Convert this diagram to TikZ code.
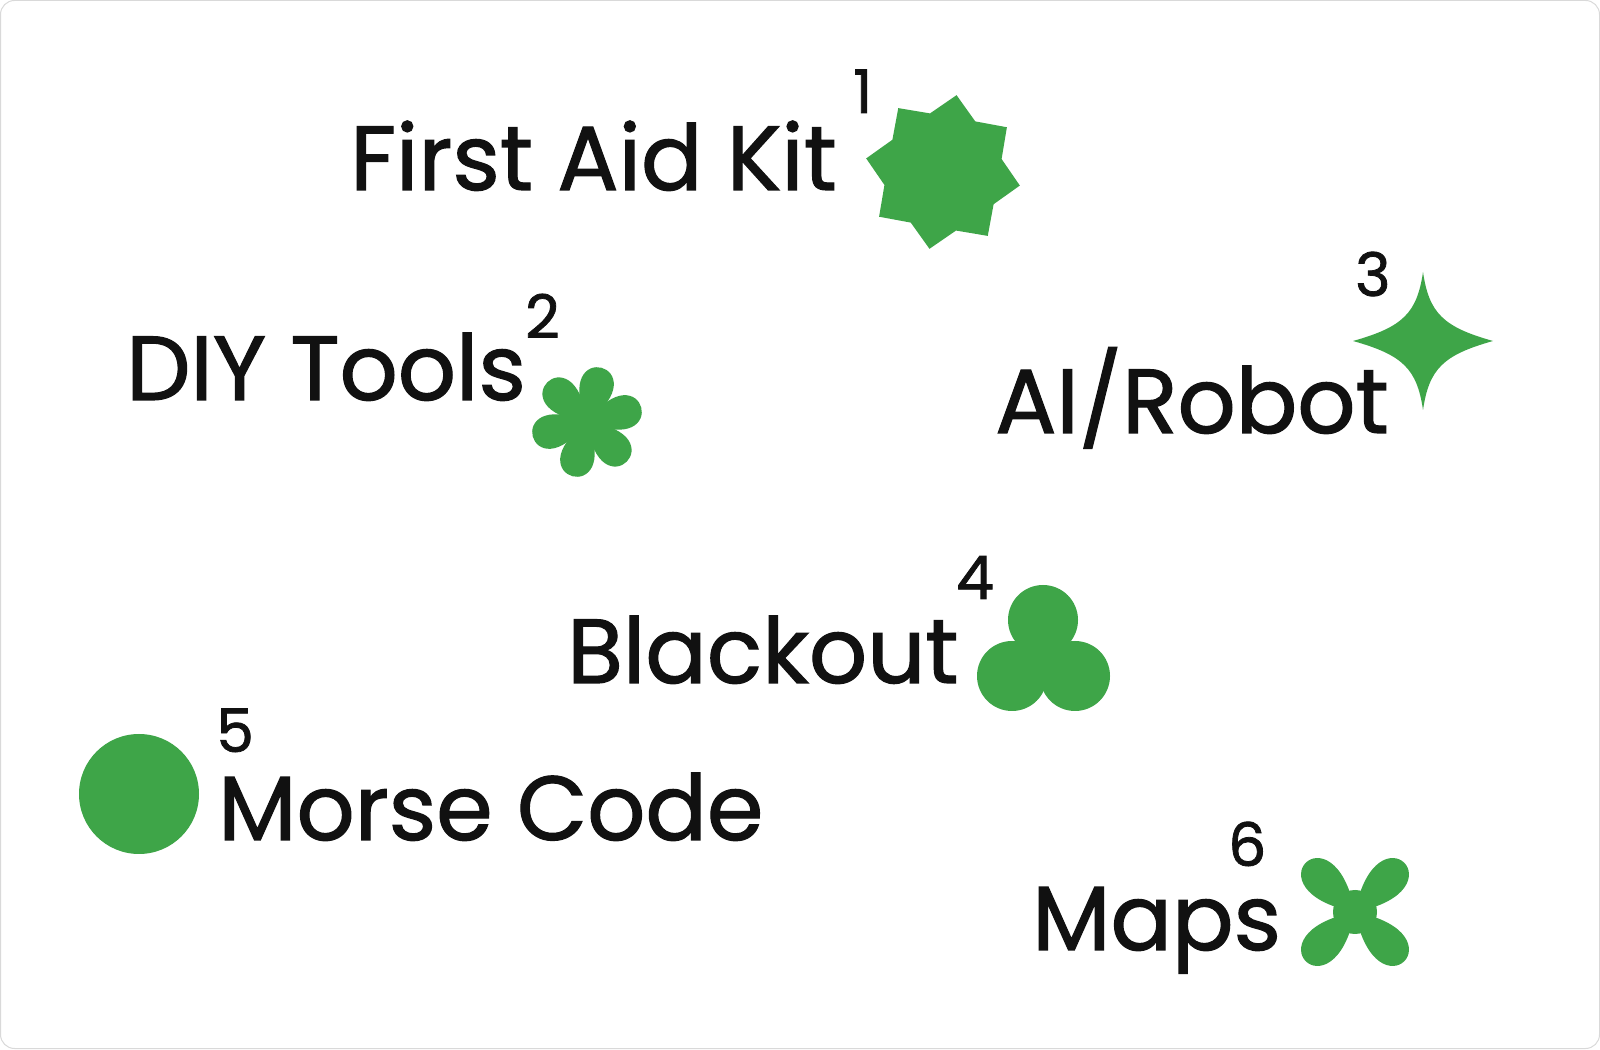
\documentclass[tikz,border=0pt]{standalone}
\usepackage{fontspec}
\setmainfont{Poppins}[FakeBold=1.3]
\definecolor{gr}{HTML}{3EA548}
\definecolor{tx}{HTML}{111111}
\begin{document}
\begin{tikzpicture}[x=1pt,y=1pt,
  lab/.style={anchor=base west,inner sep=0pt,text=tx,font=\fontsize{91}{95}\selectfont},
  num/.style={anchor=base west,inner sep=0pt,text=tx,font=\fontsize{60}{62}\selectfont},
  sh/.style={fill=gr,draw=none}]
\useasboundingbox (0,0) rectangle (1600,1049);
\draw[draw=black!15,line width=1pt,fill=white,rounded corners=14pt] (0.5,0.5) rectangle (1599.5,1048.5);
% labels
\node[lab] (t1) at (350,859) {First Aid Kit};
\node[num] (n1) at (853,936) {1};
\node[lab] (t2) at (126,649) {DIY Tools};
\node[num] (n2) at (525,711) {2};
\node[lab] (t3) at (995,616) {AI/Robot};
\node[num] (n3) at (1355,753) {3};
\node[lab] (t4) at (567,366) {Blackout};
\node[num] (n4) at (956,450) {4};
\node[lab] (t5) at (218,209) {Morse Code};
\node[num] (n5) at (216,297) {5};
\node[lab] (t6) at (1032,99) {Maps};
\node[num] (n6) at (1228,183) {6};
% 8-point star
\fill[sh,shift={(943,877)}] (80:78)
  \foreach \k in {1,...,15}{ -- ({80+22.5*\k}:{mod(\k,2)==1 ? 60 : 78}) } -- cycle;
% flower
\begin{scope}[shift={(587,627)}]
\foreach \a in {75,135,195,255,315,15}
  \fill[sh] (0,0) .. controls (\a-38:95) and (\a+38:95) .. (0,0);
\fill[sh] (0,0) circle (20);
\end{scope}
% 4-point star
\fill[sh,shift={(1423,708)}] (0,69) .. controls (-6,28) and (-20,14) .. (-70,0)
  .. controls (-20,-14) and (-6,-28) .. (0,-69)
  .. controls (6,-28) and (20,-14) .. (70,0)
  .. controls (20,14) and (6,28) .. (0,69) -- cycle;
% trefoil
\fill[sh] (1043,429) circle (35);
\fill[sh] (1012,373) circle (35);
\fill[sh] (1075,373) circle (35);
\fill[sh] (1043,395) circle (22);
% circle
\fill[sh] (139,255) circle (60);
% X shape
\begin{scope}[shift={(1355,137)}]
\foreach \a in {45,135,225,315}
  \fill[sh] (0,0) .. controls (\a-34:112) and (\a+34:112) .. (0,0);
\fill[sh] (0,0) circle (22);
\end{scope}
\end{tikzpicture}
\end{document}
